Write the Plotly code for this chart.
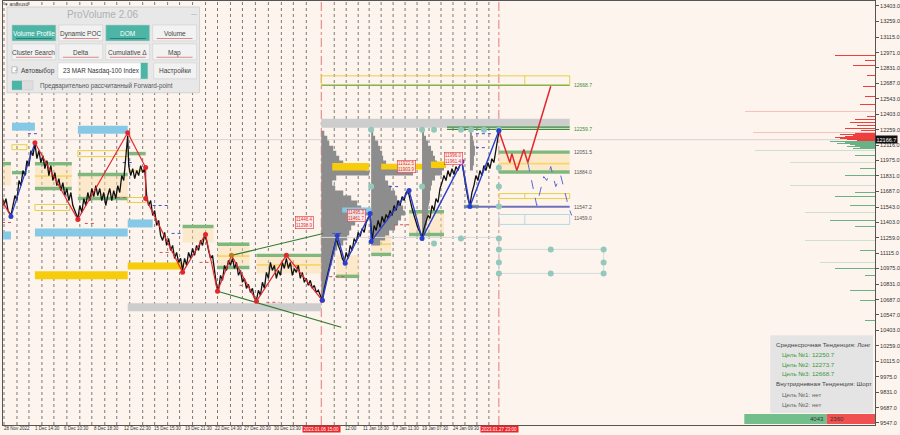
import plotly.graph_objects as go

# ---- data --------------------------------------------------------------
y_ticks = [13403, 13259, 13115, 12971, 12831, 12687, 12543, 12403, 12259, 12116,
           11975, 11831, 11687, 11543, 11403, 11259, 11115, 10975, 10831, 10687,
           10547, 10403, 10259, 10115, 9975, 9831, 9687, 9547]
last_price = 12166.7

date_labels = ["28 Nov 2022", "1 Dec 14:30", "6 Dec 10:30", "8 Dec 18:30", "12 Dec 22:30",
               "15 Dec 15:30", "19 Dec 21:30", "22 Dec 14:30", "27 Dec 20:30", "30 Dec 13:30",
               "12:00", "11 Jan 18:30", "17 Jan 11:30", "19 Jan 07:30", "24 Jan 09:30"]
date_x = [2, 33, 62, 92, 122, 152, 183, 213, 243, 273, 344, 362, 392, 421, 452]
marked_dates = ["2023.01.06 15:00", "2023.01.27 23:00"]
marked_x = [322, 500]

# session separators (bar positions)
session_x = [4, 17, 29, 42, 54, 67, 80, 92, 105, 117, 130, 143, 155, 168, 180, 193, 206, 218,
             231, 243, 256, 269, 282, 294, 307, 335, 347, 359, 370, 382, 394, 406, 418, 430,
             442, 454, 466, 478, 490]

# price path (bar index, price)
price_x = [2, 4, 6, 8, 11, 13, 15, 17, 19, 21, 23, 25, 27, 29, 31, 33, 35, 37, 39, 41, 43, 45, 47, 49,
           51, 53, 55, 57, 59, 61, 63, 65, 67, 69, 71, 73, 75, 78, 80, 82, 84, 86, 88, 90, 92, 94,
           96, 98, 100, 102, 104, 106, 108, 110, 112, 114, 116, 118, 120, 122, 124, 126, 128, 129,
           131, 133, 135, 137, 139, 141, 143, 145, 147, 149, 151, 153, 155, 157, 159, 161, 163, 165,
           167, 169, 171, 173, 175, 177, 179, 181, 183, 185, 187, 189, 191, 193, 195, 197, 199, 201,
           203, 205, 207, 209, 211, 213, 215, 217, 219, 221, 223, 225, 227, 229, 231, 233, 235, 237,
           239, 241, 243, 245, 247, 249, 251, 253, 255, 257, 259, 261, 263, 265, 267, 269, 271, 273,
           275, 277, 279, 281, 283, 285, 287, 289, 291, 293, 295, 297, 299, 301, 303, 305, 307, 309,
           311, 313, 315, 317, 319, 321, 323, 325, 327, 329, 331, 333, 335, 337, 339, 341, 343, 345,
           347, 349, 351, 353, 355, 357, 359, 361, 363, 365, 367, 369, 371, 373, 375, 377, 379, 381,
           383, 385, 387, 389, 391, 393, 395, 397, 399, 401, 403, 405, 407, 409, 411, 413, 415, 417,
           419, 421, 423, 425, 427, 429, 431, 433, 435, 437, 439, 441, 443, 445, 447, 449, 451, 453,
           455, 457, 459, 461, 463, 465, 467, 469, 471, 473, 475, 477, 479, 481, 483, 485, 487, 489,
           491, 493, 495, 497, 499, 500]
price_y = [11650, 11558, 11622, 11512, 11466, 11558, 11650, 11604, 11789, 11742, 11881, 11835, 11973,
           11927, 12065, 12019, 12130, 11992, 12065, 11955, 12019, 11899, 11973, 11835, 11927, 11789,
           11862, 11742, 11807, 11696, 11770, 11650, 11715, 11604, 11678, 11558, 11512, 11438, 11558,
           11494, 11622, 11558, 11678, 11604, 11715, 11641, 11742, 11650, 11715, 11604, 11678, 11558,
           11650, 11715, 11604, 11696, 11622, 11742, 11678, 11835, 11789, 11973, 12204, 11927, 11835,
           11899, 11807, 11881, 11835, 11927, 11862, 11899, 11650, 11558, 11604, 11466, 11512, 11373,
           11420, 11281, 11235, 11309, 11189, 11253, 11143, 11189, 11069, 11124, 11032, 11069, 10958,
           11069, 11004, 11124, 11069, 11161, 11097, 11189, 11143, 11235, 11189, 11281, 11235, 11143,
           11069, 11097, 10958, 10820, 10774, 10912, 10866, 11004, 10958, 11050, 11004, 11069, 10976,
           11032, 10912, 10958, 10848, 10884, 10792, 10829, 10755, 10792, 10700, 10681, 10774, 10728,
           10848, 10792, 10940, 10884, 11032, 10958, 11004, 10884, 10958, 10912, 11032, 10976, 11069,
           10976, 11032, 10912, 10976, 10940, 11004, 10884, 10940, 10848, 10884, 10820, 10866, 10792,
           10820, 10755, 10774, 10718, 10681, 10792, 10866, 10940, 11032, 11097, 11189, 11253, 11189,
           11143, 11069, 11032, 11124, 11069, 11189, 11143, 11253, 11216, 11309, 11272, 11346, 11309,
           11401, 11438, 11475, 11235, 11373, 11327, 11420, 11355, 11457, 11401, 11475, 11438, 11512,
           11466, 11558, 11512, 11604, 11558, 11641, 11604, 11678, 11696, 11604, 11530, 11466, 11401,
           11346, 11309, 11263, 11346, 11401, 11466, 11438, 11558, 11512, 11622, 11586, 11715, 11770,
           11835, 11789, 11881, 11825, 11899, 11844, 11918, 11881, 11936, 11955, 11835, 11715, 11622,
           11558, 11678, 11742, 11835, 11789, 11881, 11835, 11927, 11881, 11955, 11899, 11991, 11955,
           12065, 12158, 12240]

# zigzag pivots
zz_red_a_x = [2, 11]
zz_red_a_y = [11604, 11457]
zz_blue_a_x = [11, 35]
zz_blue_a_y = [11457, 12139]
zz_red_x = [35, 78, 128, 146, 146, 183, 206, 218, 232, 257, 287, 323]
zz_red_y = [12139, 11429, 12231, 11909, 11623, 10940, 11291, 10765, 11097, 10672, 11097, 10681]
zz_blue_x = [323, 338, 346, 371, 372, 410, 423, 463, 471, 500]
zz_blue_y = [10681, 11281, 11023, 11484, 11226, 11696, 11254, 11964, 11549, 12250]
proj_red_x = [500, 511, 513, 518, 525, 529, 552]
proj_red_y = [12250, 11955, 12038, 11881, 12075, 11955, 12660]
proj_blue_x = [529, 538, 545, 548, 552, 557, 562, 570, 573]
proj_blue_y = [11955, 11558, 11826, 11789, 11918, 11733, 11835, 11540, 11466]

# triangle trend lines
trend_up_x = [232, 324]
trend_up_y = [11097, 11299]
trend_dn_x = [218, 342]
trend_dn_y = [10765, 10432]

# zones: (x0, x1, price low, price high)
zones_light = [(0, 11, 11742, 11927), (35, 72, 11733, 11920), (78, 128, 11640, 11835),
               (183, 214, 11216, 11364), (218, 250, 11004, 11189), (257, 322, 10930, 11097),
               (337, 360, 10912, 11097), (372, 392, 11124, 11281), (410, 445, 11309, 11500),
               (500, 571, 11884, 12051)]
zones_blue = [(12, 35, 12250, 12324), (78, 128, 12222, 12296), (35, 128, 11272, 11346),
              (128, 153, 11355, 11429), (2, 11, 11244, 11318)]
zones_gold = [(35, 128, 10875, 10949), (128, 183, 10967, 11032)]
zones_grey = [(128, 322, 10580, 10654), (322, 571, 12277, 12360)]
poc_gold = [(333, 370, 11881, 11950), (382, 423, 11890, 11945), (432, 447, 11905, 11965)]
poc_blue = [(343, 372, 11493, 11540)]
green_bands = [(0, 11, 11945), (12, 27, 11862), (35, 72, 11945), (35, 72, 11715), (78, 128, 11844),
               (78, 128, 11622), (128, 146, 12038), (183, 214, 11364), (218, 250, 11199),
               (218, 250, 10985), (257, 323, 11097), (337, 360, 10903), (372, 392, 11106),
               (410, 445, 11290), (410, 445, 11500), (465, 480, 11549), (500, 571, 12051.5),
               (500, 571, 11868)]
gold_lines = [(35, 72, 11830), (128, 146, 11880), (218, 250, 11090), (257, 322, 11010),
              (372, 392, 11200), (500, 571, 11945)]
boxes_gold = [(12, 27, 12074, 12120), (35, 70, 11512, 11567), (78, 128, 12010, 12065),
              (128, 146, 11586, 11632), (322, 571, 12674, 12757), (500, 571, 11622, 11668)]
boxes_lblue = [(500, 571, 11383, 11475)]

# short marker segments (x0, x1, price)
red_ticks = [(2, 14, 11401), (85, 96, 11392), (117, 127, 11632), (160, 173, 11124), (200, 213, 11032),
             (240, 250, 10820), (267, 280, 10663), (290, 300, 11000), (330, 345, 10900), (395, 410, 11380)]
blue_ticks = [(28, 40, 12222), (123, 133, 11955), (153, 168, 11558), (172, 182, 11300),
              (390, 402, 11733), (477, 493, 12222), (477, 486, 12093), (333, 343, 11300)]

# right-side levels
level_vals = [12668.7, 12259.7, 12051.5, 11884.0, 11547.2, 11459.0]
level_y = [12668.7, 12262, 12051.5, 11868, 11547.2, 11440]

# volume profiles
prof_prices = [12250, 12204, 12158, 12111, 12065, 12019, 11973, 11927, 11881, 11835, 11789, 11742,
               11696, 11650, 11604, 11558, 11512, 11466, 11420, 11373, 11327, 11281, 11235, 11189,
               11143, 11097, 11050, 11004, 10958, 10912, 10866, 10820, 10774, 10728, 10681]
prof1_w = [3, 6, 8, 12, 15, 18, 22, 45, 48, 15, 11, 14, 22, 30, 36, 40, 48, 38, 34, 30, 28, 26, 22,
           16, 14, 12, 11, 9, 7, 6, 5, 4, 3, 2, 1]
prof2_w = [2, 4, 7, 9, 11, 12, 15, 40, 42, 14, 17, 20, 24, 26, 30, 32, 34, 30, 27, 24, 18, 14, 9, 4]
prof3_w = [2, 4, 6, 9, 11, 13, 15, 22, 20, 13, 10, 9, 8, 8, 7, 6, 6, 5, 5, 4, 3, 2, 2]
prof4_w = [2, 3, 4, 5, 5, 4, 4, 3, 2]
prof_x0 = [322, 372, 423, 471]

# teal markers
teal_x = [372, 423, 435, 462, 472, 485, 500, 372, 423, 500, 500, 500, 435, 462, 500,
          500, 552, 605, 500, 605, 500, 552, 605]
teal_y = [12259, 12259, 12259, 12259, 12259, 12259, 12259, 11733, 11733, 11733, 11908, 11549,
          11207, 11254, 11254, 11152, 11152, 11152, 11032, 11032, 10930, 10930, 10930]

# DOM profile at the price axis
dom_red_p = [12942, 12896, 12853, 12760, 12660, 12563, 12490, 12425, 12378, 12350, 12324, 12296,
             12268, 12250, 12231, 12222, 12213, 12204, 12195, 12185, 12176, 12167, 12158]
dom_red_len = [40, 10, 22, 8, 12, 10, 15, 130, 8, 20, 25, 18, 30, 14, 122, 20, 35, 22, 30, 40, 35, 28, 18]
dom_green_p = [12148, 12139, 12130, 12120, 12111, 12102, 12093, 12083, 12065, 12019, 11954, 11899,
               11835, 11742, 11678, 11641, 11558, 11493, 11420, 11364, 11235, 11143, 11032, 10976,
               10912, 10774, 10681, 10497]
dom_green_len = [45, 30, 38, 25, 20, 28, 15, 22, 120, 20, 85, 15, 30, 85, 20, 40, 25, 70, 45, 20,
                 70, 15, 55, 40, 10, 25, 15, 10]

# red price tags on the chart
tag_x = [305, 357, 407, 455]
tag_y = [11405, 11470, 11915, 11990]
tag_text = ["11446.4<br>11398.9", "11495.3<br>11461.7", "11922.5<br>11903.9", "11996.0<br>11961.4"]

trend_labels = ["Среднесрочная Тенденция: Лонг", "Цель №1: 12250.7", "Цель №2: 12273.7",
                "Цель №3: 12668.7", "Внутридневная Тенденция: Шорт", "Цель №1: нет", "Цель №2: нет"]
buy_vol, sell_vol = 4043, 2360

# ---- geometry helpers --------------------------------------------------
W, H = 900, 435
ML, MR, MT, MB = 3, 23, 0, 10
Y0, Y1 = 9528.4, 13449.0
BG = "#fdf4ee"
TEAL = "#4cb5a6"
FONT = "Liberation Sans"


def px(x):
    return (x - ML) / (W - ML - MR)


def py(y):
    return 1 - (y - MT) / (H - MT - MB)


shapes = []
annots = []


def rect(x0, x1, p0, p1, fill, line="rgba(0,0,0,0)", lw=0, layer="below"):
    shapes.append(dict(type="rect", x0=x0, x1=x1, y0=p0, y1=p1, fillcolor=fill,
                       line=dict(color=line, width=lw), layer=layer))


def prect(x0, y0, x1, y1, fill, line="rgba(0,0,0,0)", lw=0):
    shapes.append(dict(type="rect", xref="paper", yref="paper", x0=px(x0), x1=px(x1),
                       y0=py(y1), y1=py(y0), fillcolor=fill, line=dict(color=line, width=lw),
                       layer="above"))


def ptext(x, y, text, size=6.5, color="#444", anchor="left", **kw):
    annots.append(dict(x=px(x), y=py(y), xref="paper", yref="paper", text=text, showarrow=False,
                       xanchor=anchor, yanchor="middle", font=dict(size=size, color=color, family=FONT), **kw))


def segs(items):
    xs, ys = [], []
    for x0, x1, p in items:
        xs += [x0, x1, None]
        ys += [p, p, None]
    return xs, ys


# session separators
for x in session_x:
    shapes.append(dict(type="line", x0=x, x1=x, yref="paper", y0=0, y1=1, layer="below",
                       line=dict(color="#5a5a5a", width=0.8, dash="dot")))
for x in marked_x:
    shapes.append(dict(type="line", x0=x, x1=x, yref="paper", y0=0, y1=1, layer="below",
                       line=dict(color="#e05a5a", width=0.8, dash="dashdot")))
shapes.append(dict(type="line", x0=3, x1=877, y0=last_price, y1=last_price, layer="below",
                   line=dict(color="#dcd2d0", width=1)))

for z in zones_light:
    rect(*z, "rgba(250,220,160,0.45)")
for z in zones_blue:
    rect(*z, "#86c9e6")
for z in zones_gold:
    rect(*z, "#f6cc0c")
for z in zones_grey:
    rect(*z, "#cdcdcd")
for x0, x1, p in green_bands:
    rect(x0, x1, p - 16, p + 16, "#7fb77c")
for x0, x1, p in gold_lines:
    rect(x0, x1, p - 8, p + 8, "rgba(246,210,80,0.8)")
for z in boxes_gold:
    rect(*z, "rgba(0,0,0,0)", "#e8cf45", 1)
for z in boxes_lblue:
    rect(*z, "rgba(0,0,0,0)", "#b3d9e6", 1)
# dividers inside the right boxes
for b in [boxes_gold[4], boxes_gold[5], boxes_lblue[0]]:
    shapes.append(dict(type="line", x0=526, x1=526, y0=b[2], y1=b[3], layer="below",
                       line=dict(color="#e8cf45" if b in boxes_gold else "#b3d9e6", width=1)))

fig = go.Figure()

# volume profiles
for x0, w in zip(prof_x0, [prof1_w, prof2_w, prof3_w, prof4_w]):
    pr = prof_prices[:len(w)]
    xs = [x0] + [x0 + v for v in w] + [x0]
    ys = [pr[0]] + pr + [pr[-1]]
    fig.add_trace(go.Scatter(x=xs, y=ys, mode="lines", fill="toself", fillcolor="#8d8d8d",
                             line=dict(width=0, shape="vh"), hoverinfo="skip"))
for x0, x1, p0, p1 in poc_gold:
    fig.add_trace(go.Scatter(x=[x0, x1, x1, x0, x0], y=[p0, p0, p1, p1, p0], fill="toself",
                             fillcolor="#f6cc0c", line=dict(width=0), mode="lines"))
for x0, x1, p0, p1 in poc_blue:
    fig.add_trace(go.Scatter(x=[x0, x1, x1, x0, x0], y=[p0, p0, p1, p1, p0], fill="toself",
                             fillcolor="#86c9e6", line=dict(width=0), mode="lines"))

# short red / blue marker segments
rx, ry = segs(red_ticks)
fig.add_trace(go.Scatter(x=rx, y=ry, mode="lines", line=dict(color="#e05050", width=1, dash="dot")))
bx_, by_ = segs(blue_ticks)
fig.add_trace(go.Scatter(x=bx_, y=by_, mode="lines", line=dict(color="#4050d8", width=1, dash="dot")))

# right levels
lv_colors = ["#7ab36a", "#3c8c3c", "#7fb77c", "#7fb77c", "#7070b8", "#b3d9e6"]
for v, yv, c in zip(level_vals, level_y, lv_colors):
    if v in (12668.7, 12259.7):
        x0 = 322 if v == 12668.7 else 448
        fig.add_trace(go.Scatter(x=[x0, 571], y=[yv, yv], mode="lines", line=dict(color=c, width=1.2)))
        if v == 12259.7:
            fig.add_trace(go.Scatter(x=[x0, 571], y=[yv + 20, yv + 20], mode="lines",
                                     line=dict(color=c, width=1.2)))
    if v == 11547.2:
        fig.add_trace(go.Scatter(x=[465, 571], y=[yv, yv], mode="lines", line=dict(color=c, width=2)))
    annots.append(dict(x=573, y=yv, text=f"{v:.1f}", showarrow=False, xanchor="left",
                       font=dict(size=5, color="#3c8c3c" if v in (12668.7, 12259.7) else "#555", family=FONT)))

# teal grid
fig.add_trace(go.Scatter(x=[500, 605, 605, 500], y=[11152, 11152, 10930, 10930], mode="lines",
                         line=dict(color="#d4dcd8", width=1)))
fig.add_trace(go.Scatter(x=[322, 500], y=[11263, 11263], mode="lines", line=dict(color="#d8d8d8", width=1)))
fig.add_trace(go.Scatter(x=[500, 500], y=[11254, 10930], mode="lines", line=dict(color="#d4dcd8", width=1)))
fig.add_trace(go.Scatter(x=teal_x, y=teal_y, mode="markers", marker=dict(color="#93c9bd", size=6)))

# trend lines
fig.add_trace(go.Scatter(x=trend_up_x, y=trend_up_y, mode="lines", line=dict(color="#2f7a2f", width=1.2)))
fig.add_trace(go.Scatter(x=trend_dn_x, y=trend_dn_y, mode="lines", line=dict(color="#2f7a2f", width=1.2)))

# price
fig.add_trace(go.Scatter(x=price_x, y=price_y, mode="lines", line=dict(color="#111", width=1.3)))

# zigzag
fig.add_trace(go.Scatter(x=zz_red_a_x, y=zz_red_a_y, mode="lines", line=dict(color="#e3262d", width=1.2)))
fig.add_trace(go.Scatter(x=zz_blue_a_x, y=zz_blue_a_y, mode="lines", line=dict(color="#2a3fd0", width=1.2)))
fig.add_trace(go.Scatter(x=zz_red_x, y=zz_red_y, mode="lines", line=dict(color="#e3262d", width=1.2)))
fig.add_trace(go.Scatter(x=zz_blue_x, y=zz_blue_y, mode="lines", line=dict(color="#2a3fd0", width=1.4)))
fig.add_trace(go.Scatter(x=proj_red_x, y=proj_red_y, mode="lines", line=dict(color="#e3262d", width=1.5)))
fig.add_trace(go.Scatter(x=proj_blue_x, y=proj_blue_y, mode="lines",
                         line=dict(color="#5a68d8", width=1, dash="dash")))
dot_x = [11, 35] + zz_red_x[1:] + zz_blue_x
dot_y = [11457, 12139] + zz_red_y[1:] + zz_blue_y
dot_c = ["#2a3fd0", "#e3262d"] + ["#e3262d"] * 7 + ["#c07a20"] + ["#e3262d"] * 3 + \
        ["#2a3fd0"] * 7 + ["#7a2ab0", "#2a3fd0", "#2a3fd0"]
fig.add_trace(go.Scatter(x=dot_x, y=dot_y, mode="markers", marker=dict(color=dot_c, size=5)))

# DOM at the price axis
fig.add_trace(go.Bar(y=dom_red_p, x=[-v for v in dom_red_len], base=877, orientation="h", width=10,
                     marker=dict(color=["rgba(235,40,40,0.25)" if v > 50 else "rgba(235,30,30,0.85)"
                                        for v in dom_red_len], line=dict(width=0))))
fig.add_trace(go.Bar(y=dom_green_p, x=[-v for v in dom_green_len], base=877, orientation="h", width=10,
                     marker=dict(color=["rgba(40,150,90,0.22)" if v > 50 else "rgba(40,150,90,0.7)"
                                        for v in dom_green_len], line=dict(width=0))))

# red price tags
for x, y, t in zip(tag_x, tag_y, tag_text):
    annots.append(dict(x=x, y=y, text=t, showarrow=False, font=dict(size=4.5, color="#e03030", family=FONT),
                       bordercolor="#e03030", borderwidth=0.6, borderpad=0.5, bgcolor="rgba(255,238,238,0.85)"))

# ---- ProVolume panel ---------------------------------------------------
prect(7, 6, 200, 92, "#e8e8e8", "#d2d2d2", 1)
ptext(103, 14, "ProVolume 2.06", 10, "#b0b0b0", "center")
ptext(194, 13, "—", 6, "#999", "center")
buttons = [("Volume Profile", 12, 24, True), ("Dynamic POC", 59, 24, False), ("DOM", 106, 24, True),
           ("Volume", 153, 24, False), ("Cluster Search", 12, 43, False), ("Delta", 59, 43, False),
           ("Cumulative Δ", 106, 43, False), ("Map", 153, 43, False)]
for t, bx, by, on in buttons:
    prect(bx, by, bx + 44, by + 16, TEAL if on else "#f2f2f2", "#cfcfcf", 0.6)
    ptext(bx + 22, by + 9, t, 6.5, "white" if on else "#444", "center")
    prect(bx + 4, by + 13, bx + 40, by + 14, "#d88a8a" if not on else "#2d7f74")
prect(12, 66, 17, 72, "white", "#999", 0.6)
ptext(12.5, 69, "✓", 6, TEAL)
ptext(19, 70, "Автовыбор", 6.5, "#444")
prect(58, 62, 148, 78, "white", "#cccccc", 0.6)
prect(141, 62, 148, 78, TEAL)
ptext(61, 70, "23 MAR Nasdaq-100 Index", 6.3, "#333")
prect(154, 62, 197, 78, "#f2f2f2", "#cfcfcf", 0.6)
ptext(175.5, 70, "Настройки", 6.5, "#444", "center")
prect(12, 80, 33, 89, "#dedede", "#c8c8c8", 0.6)
prect(12, 80, 22, 89, TEAL)
ptext(38, 85, "Предварительно рассчитанный Forward-point", 6.3, "#555")
ptext(3, 3, "▾ andxusd", 5, "#333")

# ---- trend info box ----------------------------------------------------
prect(772, 335, 875, 413, "#e4e4e4")
info_pos = [(776, 344), (782, 354), (782, 364), (782, 373), (776, 383), (782, 394), (782, 404)]
info_col = ["#444", "#3a9a3a", "#3a9a3a", "#3a9a3a", "#444", "#666", "#666"]
for (x, y), t, c in zip(info_pos, trend_labels, info_col):
    ptext(x, y, t, 6.2, c)
split = 746 + 131 * buy_vol / (buy_vol + sell_vol)
prect(746, 414, split, 424, "#72bf8c")
prect(split, 414, 877, 424, "#f0504f")
ptext(split - 1, 419, str(buy_vol), 6, "#333", "right")
ptext(split + 1, 419, str(sell_vol), 6, "#333", "left")

# ---- time axis labels --------------------------------------------------
for x, t in zip(date_x, date_labels):
    ptext(x, 429, t, 4.5, "#333")
for x, t in zip(marked_x, marked_dates):
    ptext(x - 19, 429, t, 4.5, "white", bgcolor="#e8262b", borderpad=0.5)
annots.append(dict(x=1, y=last_price, xref="paper", text=f"{last_price:.1f}", showarrow=False,
                   xanchor="left", font=dict(size=5.5, color="white", family=FONT), bgcolor="#111",
                   borderpad=0.5))

fig.update_layout(
    width=W, height=H, margin=dict(l=ML, r=MR, t=MT, b=MB),
    paper_bgcolor=BG, plot_bgcolor=BG, showlegend=False, barmode="overlay", bargap=0,
    shapes=shapes, annotations=annots, font=dict(family=FONT),
    xaxis=dict(range=[3, 877], showgrid=False, zeroline=False, showticklabels=False,
               showline=True, linecolor="#555", linewidth=1, mirror=True),
    yaxis=dict(range=[Y0, Y1], side="right", showgrid=False, zeroline=False,
               tickvals=y_ticks, ticktext=[f"{v:.1f}" for v in y_ticks],
               tickfont=dict(size=5.5, color="#333"), ticks="outside", ticklen=3, tickcolor="#555",
               showline=True, linecolor="#555", linewidth=1, mirror=True),
)

# page body has a default margin; drop it so the figure sits at the window origin
fig.write_html("out.html", config={"displayModeBar": False},
               post_script="document.body.style.margin='0';")
